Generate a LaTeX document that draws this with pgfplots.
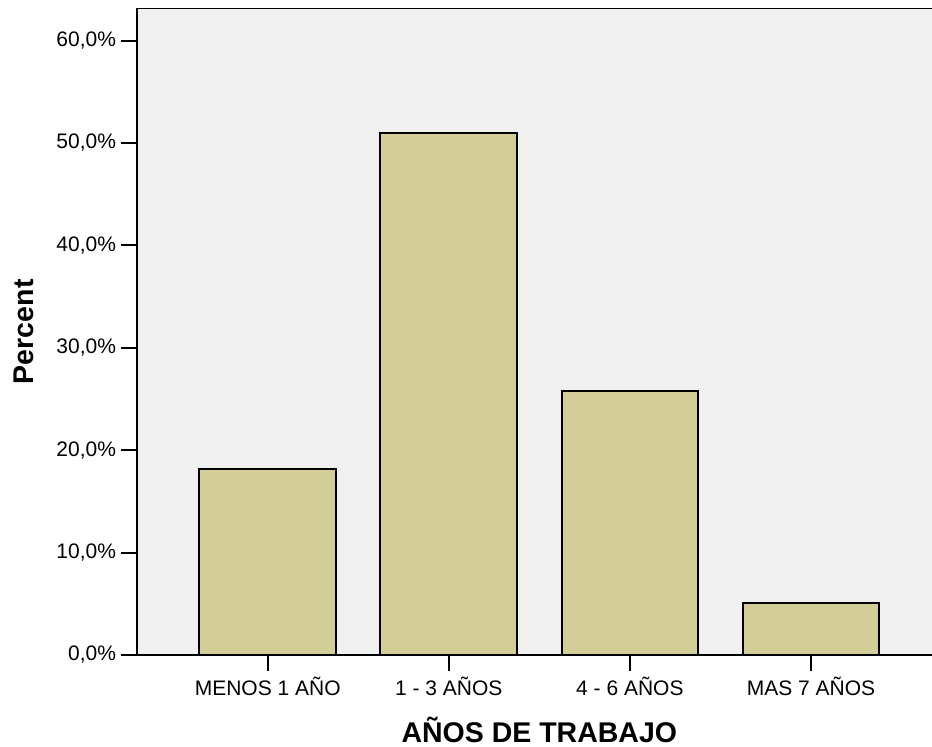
\documentclass[border=0pt]{standalone}
\usepackage{pgfplots}
\pgfplotsset{compat=1.18}
\usepackage{fontspec}
\setmainfont{Liberation Sans}
\definecolor{bg}{RGB}{240,240,240}
\definecolor{barc}{RGB}{211,206,152}
\begin{document}
\begin{tikzpicture}
\useasboundingbox (0,0) rectangle (932bp,747bp);
\begin{axis}[
 at={(137bp,92bp)}, anchor=south west,
 scale only axis, width=804.7bp, height=646.5bp,
 xmin=-0.722, xmax=3.722, ymin=0, ymax=63.13,
 axis background/.style={fill=bg},
 axis line style={line width=1.5bp},
 tick pos=left, tick align=outside,
 major tick length=16bp,
 tick style={line width=2bp, black},
 xtick={0,1,2,3},
 xticklabels={MENOS 1 AÑO, 1 - 3 AÑOS, 4 - 6 AÑOS, MAS 7 AÑOS},
 ytick={0,10,...,60},
 yticklabel={\pgfmathprintnumber[fixed,fixed zerofill,precision=1,use comma,assume math mode=true]{\tick}\%},
 tick label style={font=\fontsize{21bp}{25bp}\selectfont},
 xticklabel style={anchor=base, yshift=-24bp},
 yticklabel style={xshift=-1.5bp},
 xlabel={AÑOS DE TRABAJO},
 ylabel={Percent},
 label style={font=\bfseries\fontsize{28.5bp}{34bp}\selectfont},
 xlabel style={at={(rel axis cs:0.5,0)}, anchor=base, yshift=-87.5bp},
 ylabel style={at={(rel axis cs:0,0.5)}, anchor=base, yshift=103.7bp},
]
\addplot[ybar, bar width=136.7bp, fill=barc, draw=black, line width=2bp]
 coordinates {(0,18.2) (1,51.0) (2,25.8) (3,5.1)};
\end{axis}
\end{tikzpicture}
\end{document}
